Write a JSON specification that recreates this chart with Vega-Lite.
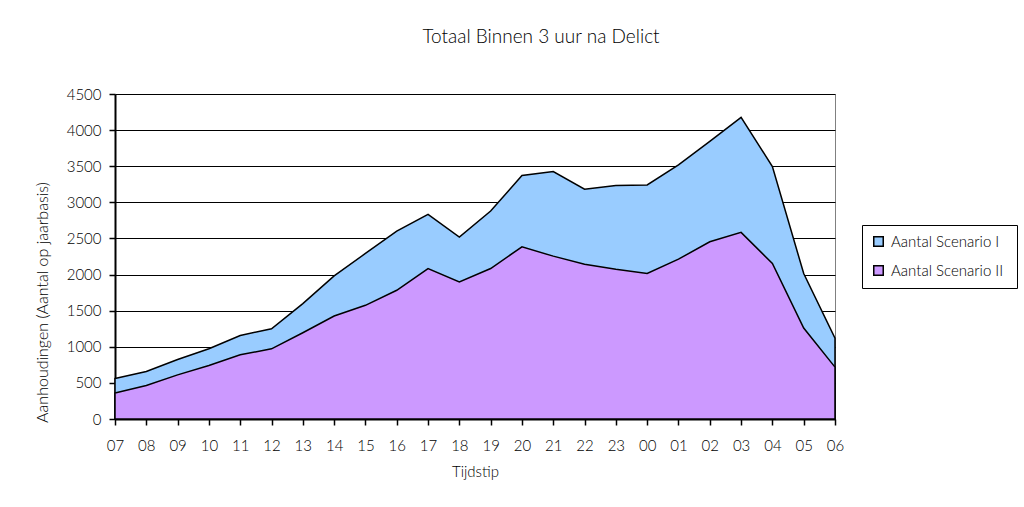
{
  "$schema": "https://vega.github.io/schema/vega-lite/v6.json",
  "autosize": {"type": "none"},
  "padding": {"left": 115, "top": 94, "right": 189, "bottom": 88},
  "width": 720,
  "height": 325,
  "background": "white",
  "title": {
    "text": "Totaal Binnen 3 uur na Delict",
    "frame": "group",
    "anchor": "middle",
    "dx": 66,
    "offset": 40,
    "fontSize": 19,
    "font": "Lato",
    "fontWeight": 300,
    "color": "black"
  },
  "data": {
    "values": [
      {"t": "07", "I": 560, "II": 360},
      {"t": "08", "I": 657, "II": 463},
      {"t": "09", "I": 824, "II": 611},
      {"t": "10", "I": 972, "II": 741},
      {"t": "11", "I": 1157, "II": 889},
      {"t": "12", "I": 1250, "II": 972},
      {"t": "13", "I": 1597, "II": 1194},
      {"t": "14", "I": 1981, "II": 1426},
      {"t": "15", "I": 2292, "II": 1574},
      {"t": "16", "I": 2602, "II": 1782},
      {"t": "17", "I": 2833, "II": 2083},
      {"t": "18", "I": 2519, "II": 1898},
      {"t": "19", "I": 2880, "II": 2083},
      {"t": "20", "I": 3371, "II": 2384},
      {"t": "21", "I": 3426, "II": 2255},
      {"t": "22", "I": 3181, "II": 2144},
      {"t": "23", "I": 3232, "II": 2074},
      {"t": "00", "I": 3241, "II": 2014},
      {"t": "01", "I": 3519, "II": 2213},
      {"t": "02", "I": 3843, "II": 2454},
      {"t": "03", "I": 4176, "II": 2584},
      {"t": "04", "I": 3496, "II": 2153},
      {"t": "05", "I": 2014, "II": 1259},
      {"t": "06", "I": 1120, "II": 718}
    ]
  },
  "config": {
    "font": "Lato",
    "view": {"stroke": "#808080", "strokeWidth": 1},
    "axis": {
      "labelFont": "Lato",
      "titleFont": "Lato",
      "labelFontSize": 15,
      "titleFontSize": 15,
      "labelFontWeight": 300,
      "titleFontWeight": 300,
      "labelColor": "black",
      "titleColor": "black",
      "domainColor": "black",
      "tickColor": "black"
    },
    "legend": {"labelFont": "Lato", "labelFontSize": 15, "labelFontWeight": 300, "labelColor": "black"}
  },
  "encoding": {
    "x": {
      "field": "t",
      "type": "ordinal",
      "sort": null,
      "scale": {"padding": 0},
      "axis": {
        "title": "Tijdstip",
        "labelAngle": 0,
        "domainWidth": 2,
        "tickSize": 6,
        "tickWidth": 1.5,
        "labelPadding": 13,
        "titlePadding": 11,
        "grid": false
      }
    },
    "y": {
      "field": "I",
      "type": "quantitative",
      "scale": {"domain": [0, 4500], "nice": false},
      "axis": {
        "title": "Aanhoudingen  (Aantal op jaarbasis)",
        "titleFontSize": 16,
        "titleY": 208,
        "values": [0, 500, 1000, 1500, 2000, 2500, 3000, 3500, 4000, 4500],
        "format": "d",
        "labelOverlap": false,
        "grid": true,
        "gridColor": "black",
        "gridWidth": 1,
        "gridOpacity": 1,
        "domainWidth": 2,
        "tickSize": 6,
        "tickWidth": 1.5,
        "labelPadding": 8,
        "titlePadding": 16
      }
    }
  },
  "layer": [
    {
      "mark": {"type": "area", "stroke": "black", "strokeWidth": 1.5, "opacity": 1},
      "encoding": {
        "color": {
          "datum": "Aantal Scenario  I",
          "scale": {
            "domain": ["Aantal Scenario  I", "Aantal Scenario  II"],
            "range": ["#99CCFF", "#CC99FF"]
          },
          "legend": {
            "title": null,
            "orient": "none",
            "legendX": 747,
            "legendY": 131,
            "symbolType": "square",
            "symbolSize": 90,
            "symbolOpacity": 1,
            "rowPadding": 12,
            "padding": 9,
            "strokeColor": "black",
            "fillColor": "white",
            "labelOffset": 5,
            "encode": {
              "symbols": {"update": {"stroke": {"value": "black"}, "strokeWidth": {"value": 1.5}}}
            }
          }
        }
      }
    },
    {
      "mark": {"type": "area", "stroke": "black", "strokeWidth": 1.5, "opacity": 1},
      "encoding": {
        "y": {"field": "II", "type": "quantitative"},
        "color": {"datum": "Aantal Scenario  II"}
      }
    }
  ]
}
